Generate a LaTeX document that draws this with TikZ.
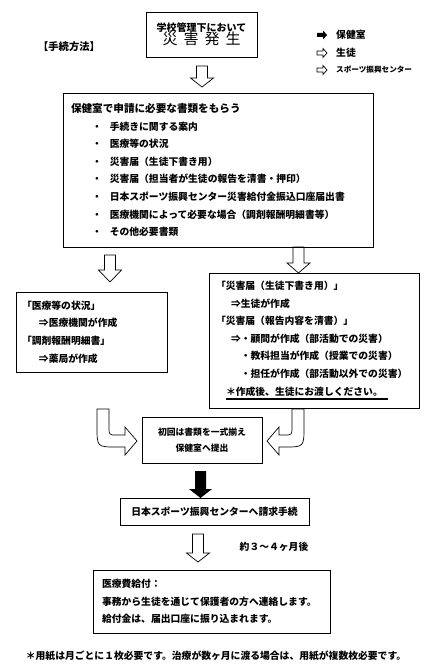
\documentclass[tikz,border=0pt]{standalone}
\usepackage{fontspec}
\setmainfont{Noto Sans CJK JP}
\newfontfamily\widefont[LetterSpace=40]{Noto Sans CJK JP}
\usepackage{tikz}
\usetikzlibrary{positioning}
\newcommand{\itm}[1]{\hspace*{21pt}・\hspace*{8pt}#1}
% block arrows: x, top, head base, tip
\newcommand{\blkdown}[5][draw]{\path[#1] (#2-5.5,#3) -- (#2+5.5,#3) -- (#2+5.5,#4) -- (#2+11.5,#4) -- (#2,#5) -- (#2-11.5,#4) -- (#2-5.5,#4) -- cycle;}
\newcommand{\blkright}[3][draw]{\path[#1] (#2-5,#3-2) -- (#2+1,#3-2) -- (#2+1,#3-4.5) -- (#2+5,#3) -- (#2+1,#3+4.5) -- (#2+1,#3+2) -- (#2-5,#3+2) -- cycle;}
\tikzset{
  frame/.style={draw,line width=.8pt,align=left,inner ysep=0pt,font=\fontsize{9.8}{17.6}\selectfont\bfseries},
  blk/.style={draw,line width=.7pt},
  txt/.style={inner sep=0pt,font=\fontsize{9.8}{12}\selectfont\bfseries}
}

\begin{document}
\begin{tikzpicture}[x=1pt,y=-1pt]
\useasboundingbox (0,0) rectangle (435,669);
\node[draw,line width=.8pt,align=center,minimum width=111pt,minimum height=45pt,inner sep=0pt] (disaster) at (201.5,34.5)
  {{\fontsize{10}{16}\selectfont\bfseries 学校管理下において}\\[-1pt]{\fontsize{15}{18}\selectfont\widefont 災害発生}};
\node[txt,font=\fontsize{10.3}{12}\selectfont\bfseries] (howto) at (69,47) {【手続方法】};
% legend
\blkright[fill=black]{322}{35}
\blkright[blk]{322}{53}
\blkright[blk]{322}{70}
\node[txt,anchor=west] (lgnurse) at (336,35) {保健室};
\node[txt,anchor=west] (lgstudent) at (336,53) {生徒};
\node[txt,anchor=west,font=\fontsize{7.6}{9}\selectfont\bfseries] (lgcenter) at (336,70) {スポーツ振興センター};
\blkdown[blk]{202}{66}{78}{87}
\node[frame,text width=294pt,inner xsep=8pt,minimum height=154pt] (docs) at (218,170)
  {{\fontsize{10.6}{17.6}\selectfont 保健室で申請に必要な書類をもらう}\\
   \itm{手続きに関する案内}\\
   \itm{医療等の状況}\\
   \itm{災害届（生徒下書き用）}\\
   \itm{災害届（担当者が生徒の報告を清書・押印）}\\
   \itm{日本スポーツ振興センター災害給付金振込口座届出書}\\
   \itm{医療機関によって必要な場合（調剤報酬明細書等）}\\
   \itm{その他必要書類}};
\blkdown[blk]{110}{255}{270}{282}
\blkdown[blk]{298.5}{247}{263}{273}
\node[frame,text width=139pt,inner xsep=6pt,minimum height=80pt] (medical) at (91.5,332)
  {「医療等の状況」\\
   \hspace*{17pt}⇒医療機関が作成\\
   「調剤報酬明細書」\\
   \hspace*{17pt}⇒薬局が作成};
\node[frame,text width=196pt,inner xsep=7pt,minimum height=135pt] (report) at (314,340.5)
  {「災害届（生徒下書き用）」\\
   \hspace*{15pt}⇒生徒が作成\\
   「災害届（報告内容を清書）」\\
   \hspace*{15pt}⇒・顧問が作成（部活動での災害）\\
   \hspace*{15pt}\phantom{⇒}・教科担当が作成（授業での災害）\\
   \hspace*{15pt}\phantom{⇒}・担任が作成（部活動以外での災害）\\
   \hspace*{10pt}\rlap{\rule[-5pt]{162pt}{2pt}}＊作成後、生徒にお渡しください。};
\node[frame,align=center,minimum width=120pt,minimum height=46pt,inner xsep=0pt,font=\fontsize{8.8}{16}\selectfont\bfseries] (submit) at (202,440)
  {初回は書類を一式揃え\\保健室へ提出};
% curved arrows into the submit box
\draw[blk] (97,409) -- (97,427) .. controls (97,447) .. (117,447) -- (125,447) -- (125,455) -- (137,441) -- (125,427) -- (125,435) -- (117,435) .. controls (109,435) .. (109,427) -- (109,409) -- cycle;
\draw[blk] (304,409) -- (304,427) .. controls (304,447) .. (284,447) -- (279,447) -- (279,455) -- (267,441) -- (279,427) -- (279,435) -- (284,435) .. controls (292,435) .. (292,427) -- (292,409) -- cycle;
\blkdown[fill=black]{200.5}{471}{489}{498}
\node[frame,align=center,minimum width=189pt,minimum height=27pt,inner xsep=0pt] (claim) at (214.5,511.5)
  {日本スポーツ振興センターへ請求手続};
\blkdown[blk]{198}{534}{553}{562}
\node[txt] (period) at (274,547) {約３～４ヶ月後};
\node[frame,text width=219pt,inner xsep=9pt,minimum height=63pt] (payment) at (211.5,601.5)
  {医療費給付：\\
   事務から生徒を通じて保護者の方へ連絡します。\\
   給付金は、届出口座に振り込まれます。};
\node[txt] (note) at (216,656) {＊用紙は月ごとに１枚必要です。治療が数ヶ月に渡る場合は、用紙が複数枚必要です。};
\end{tikzpicture}
\end{document}
